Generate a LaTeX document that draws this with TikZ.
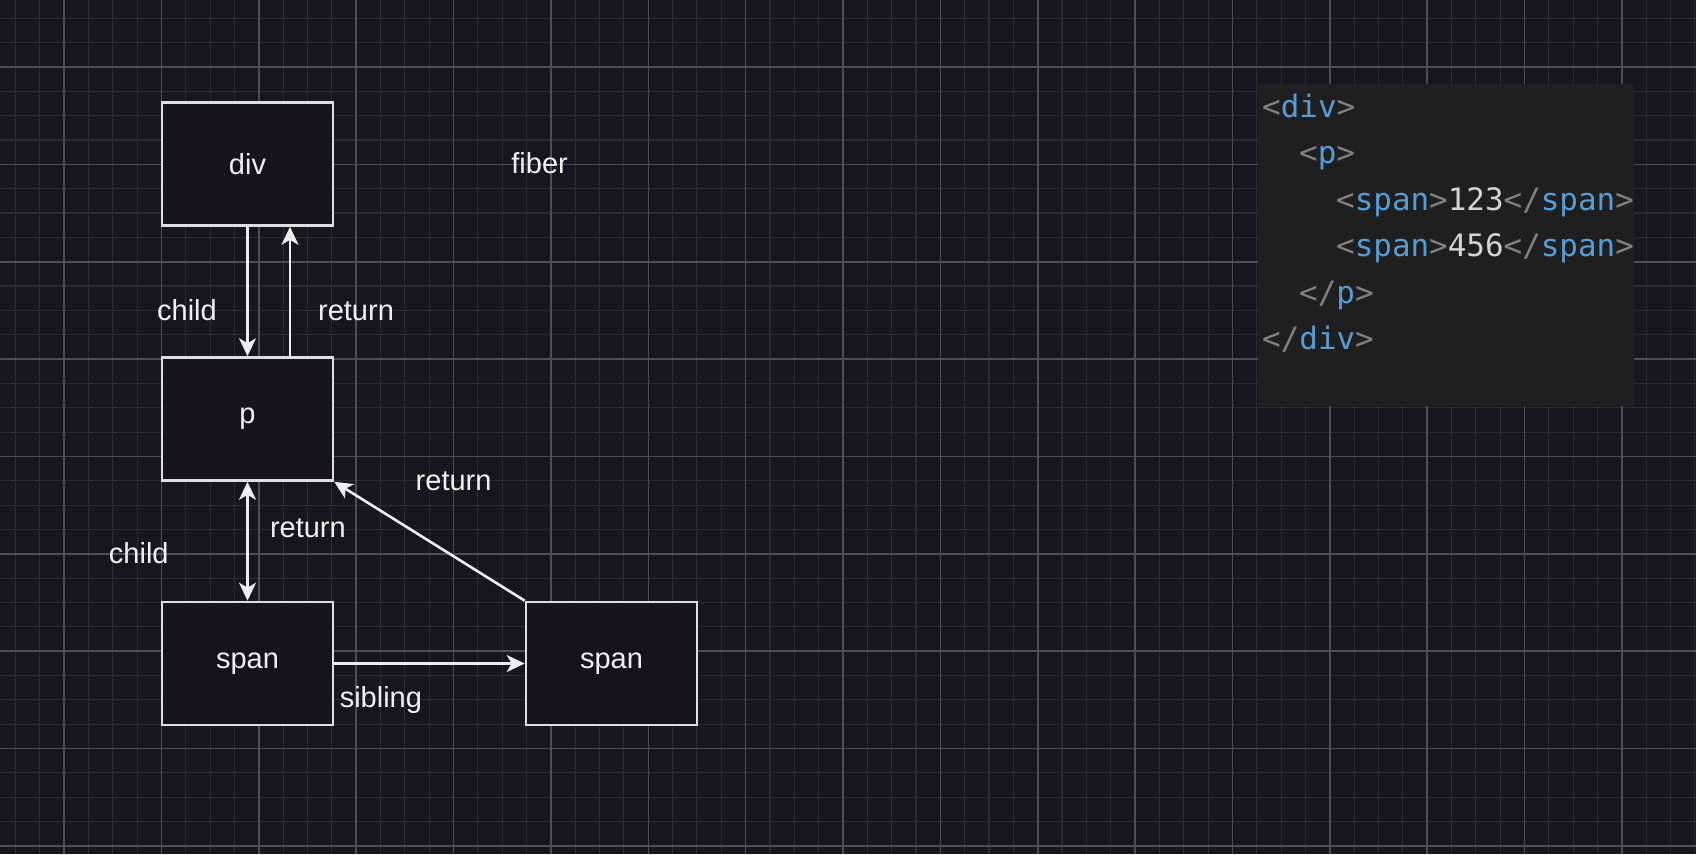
\documentclass[tikz,border=0pt]{standalone}
\usepackage{fontspec}
\setmainfont{Liberation Sans}
\setmonofont{DejaVu Sans Mono}
\usetikzlibrary{arrows.meta}
\definecolor{bgc}{RGB}{23,21,29}
\definecolor{minorc}{RGB}{44,42,52}
\definecolor{majorc}{RGB}{78,76,86}
\definecolor{boxline}{RGB}{222,222,226}
\definecolor{boxfill}{RGB}{22,19,28}
\definecolor{labeltext}{RGB}{240,240,240}
\definecolor{arrowc}{RGB}{236,236,238}
\definecolor{panelc}{RGB}{31,31,31}
\definecolor{cgray}{RGB}{128,128,128}
\definecolor{cblue}{RGB}{86,156,214}
\definecolor{ctext}{RGB}{212,212,212}
\newcommand{\lbfont}{\fontsize{29}{32}\selectfont}
\newcommand{\codefont}{\ttfamily\fontsize{30.9}{34}\selectfont}
\newcommand{\Lt}{\textcolor{cgray}{<}}
\newcommand{\Gt}{\textcolor{cgray}{>}}
\newcommand{\Ls}{\textcolor{cgray}{</}}
\newcommand{\Tg}[1]{\textcolor{cblue}{#1}}
\begin{document}
\begin{tikzpicture}[x=1pt,y=-1pt,
  minorline/.style={draw=minorc,line width=1.1pt},
  majorline/.style={draw=majorc,line width=1.6pt},
  box/.style={draw=boxline,fill=boxfill,line width=2.6pt,minimum width=171pt,minimum height=123pt,inner sep=0pt,text=labeltext,font=\lbfont},
  lbl/.style={text=labeltext,font=\lbfont,inner sep=0pt,anchor=base},
  tip/.style={},
  arr/.style={draw=arrowc,line width=2.6pt,-{Stealth[length=18pt,width=17pt,inset=5pt]}},
  darr/.style={draw=arrowc,line width=2.6pt,{Stealth[length=18pt,width=17pt,inset=5pt]}-{Stealth[length=18pt,width=17pt,inset=5pt]}},
  panel/.style={fill=panelc,draw=none,minimum width=376pt,minimum height=322pt,inner sep=0pt},
  codeline/.style={font=\codefont,text=ctext,inner sep=0pt,anchor=base west}]
\useasboundingbox (0,0) rectangle (1696,854);
\fill[bgc] (0,0) rectangle (1696,854);
\foreach \i in {0,...,69} \draw[minorline] ({15.4+24.34*\i},0) -- ({15.4+24.34*\i},854);
\foreach \i in {0,...,34} \draw[minorline] (0,{18.3+24.34*\i}) -- (1696,{18.3+24.34*\i});
\foreach \i in {0,...,16} \draw[majorline] ({64.2+97.35*\i},0) -- ({64.2+97.35*\i},854);
\foreach \i in {0,...,8} \draw[majorline] (0,{67+97.35*\i}) -- (1696,{67+97.35*\i});

% boxes
\node[box] (div) at (247.5,164) {div};
\node[box] (p) at (247.5,419) {p};
\node[box] (span1) at (247.5,663.5) {span};
\node[box] (span2) at (611.5,663.5) {span};

% connectors
\draw[arr] (div.south) -- (p.north);
\draw[arr] ([xshift=42.5pt]p.north) -- ([xshift=42.5pt]div.south);
\draw[darr] (p.south) -- (span1.north);
\draw[arr] (span2.north west) -- (p.south east);
\draw[arr] (span1.east) -- (span2.west);

% labels
\node[lbl] (fiber) at (539.6,173) {fiber};
\node[lbl] (child1) at (187,320) {child};
\node[lbl] (ret1) at (356,320) {return};
\node[lbl] (ret2) at (453.6,490) {return};
\node[lbl] (ret3) at (307.9,537) {return};
\node[lbl] (child2) at (138.8,563) {child};
\node[lbl] (sib) at (380.9,707) {sibling};

% code panel
\node[panel] (code) at (1446,245) {};
\node[codeline] (c1) at (1262,117) {\Lt\Tg{div}\Gt};
\node[codeline] (c2) at (1299,163.5) {\Lt\Tg{p}\Gt};
\node[codeline] (c3) at (1336,210) {\Lt\Tg{span}\Gt 123\Ls\Tg{span}\Gt};
\node[codeline] (c4) at (1336,256.5) {\Lt\Tg{span}\Gt 456\Ls\Tg{span}\Gt};
\node[codeline] (c5) at (1299,303) {\Ls\Tg{p}\Gt};
\node[codeline] (c6) at (1262,349.5) {\Ls\Tg{div}\Gt};
\end{tikzpicture}
\end{document}
